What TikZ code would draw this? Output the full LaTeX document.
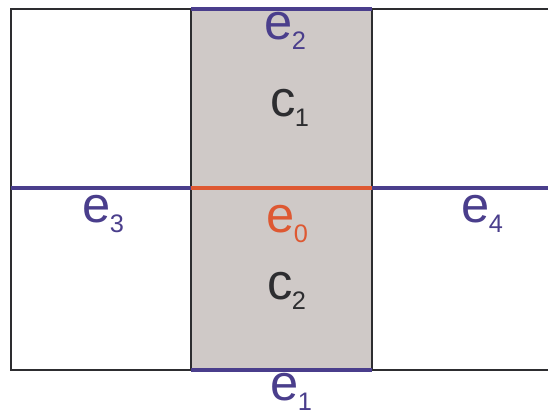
\documentclass[tikz,border=0pt]{standalone}
\usepackage{fontspec}
\setmainfont{Liberation Sans}
\definecolor{edgepurple}{RGB}{74,62,140}
\definecolor{edgeorange}{RGB}{222,88,50}
\definecolor{cellgray}{RGB}{207,201,199}
\definecolor{frameblack}{RGB}{45,45,48}
\newcommand{\lbl}[2]{#1\kern-0.5pt\raisebox{-7.5pt}{\fontsize{19}{19}\selectfont #2}}
\begin{document}
\begin{tikzpicture}[x=0.75pt,y=-0.75pt,
  frame/.style={draw=frameblack,line width=1.5pt},
  pedge/.style={draw=edgepurple,line width=3pt},
  oedge/.style={draw=edgeorange,line width=3pt},
  lab/.style={anchor=base west,inner sep=0pt,font=\fontsize{38}{38}\selectfont}]
\useasboundingbox (0,0) rectangle (548,417);
\fill[white] (0,0) rectangle (548,417);
\fill[cellgray] (191,9) rectangle (372,370);
% frame
\draw[frame] (560,9) -- (11,9) -- (11,370) -- (560,370);
\draw[frame] (191,9) -- (191,370);
\draw[frame] (372,9) -- (372,370);
% edges
\coordinate (L) at (11,188);
\coordinate (ML) at (191,188);
\coordinate (MR) at (372,188);
\coordinate (R) at (560,188);
\coordinate (TL) at (191,9);
\coordinate (TR) at (372,9);
\coordinate (BL) at (191,370);
\coordinate (BR) at (372,370);
\draw[pedge] (L) -- (ML);
\draw[pedge] (MR) -- (R);
\draw[oedge] (ML) -- (MR);
\draw[pedge] (TL) -- (TR);
\draw[pedge] (BL) -- (BR);
% labels
\node[lab,text=edgepurple] (e2) at (264,40) {\lbl{e}{2}};
\node[lab,text=frameblack] (c1) at (270,117) {\lbl{c}{1}};
\node[lab,text=edgepurple] (e3) at (82,222) {\lbl{e}{3}};
\node[lab,text=edgeorange] (e0) at (266,232) {\lbl{e}{0}};
\node[lab,text=edgepurple] (e4) at (461,222) {\lbl{e}{4}};
\node[lab,text=frameblack] (c2) at (267,299) {\lbl{c}{2}};
\node[lab,text=edgepurple] (e1) at (270,400) {\lbl{e}{1}};
\end{tikzpicture}
\end{document}
